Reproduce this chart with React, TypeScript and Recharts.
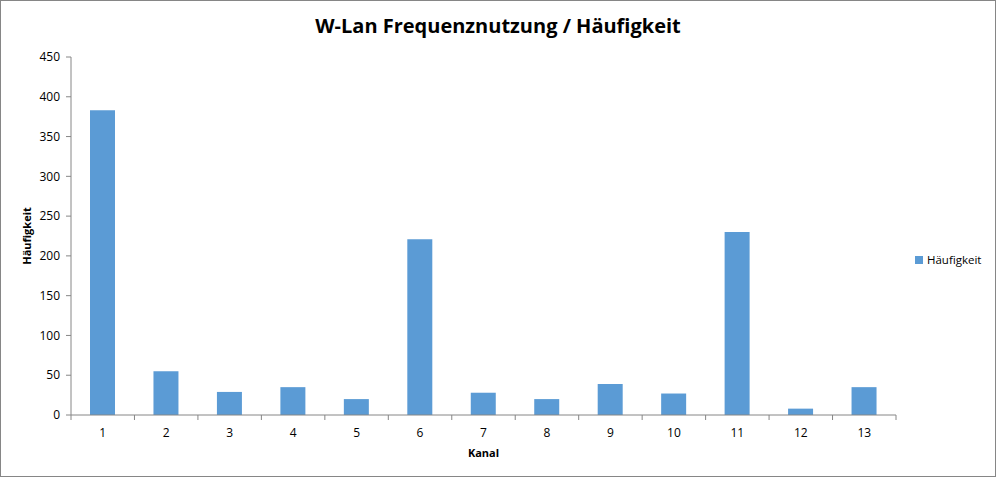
import React from "react";
import { BarChart, Bar, XAxis, YAxis } from "recharts";

const channels = ["1", "2", "3", "4", "5", "6", "7", "8", "9", "10", "11", "12", "13"];
const counts = [383, 55, 29, 35, 20, 221, 28, 20, 39, 27, 230, 8, 35];
const yTicks = [0, 50, 100, 150, 200, 250, 300, 350, 400, 450];
const seriesName = "Häufigkeit";

const data = channels.map((c, i) => ({ kanal: c, haeufigkeit: counts[i] }));

const W = 996;
const H = 477;
const M = { top: 57, right: 100, left: 0, bottom: 0 };
const Y_W = 71;
const X_H = 62;
const FONT = "'Open Sans', sans-serif";
const AXIS = "#868686";
const BAR = "#5B9BD5";

const plotW = W - M.left - M.right - Y_W;
const band = plotW / channels.length;

const XTick = (props: any) => {
  const { x, y, payload, index } = props;
  const half = band / 2;
  return (
    <g>
      <line x1={x - half} y1={y - 8} x2={x - half} y2={y - 3} stroke={AXIS} />
      {index === channels.length - 1 && (
        <line x1={x + half} y1={y - 8} x2={x + half} y2={y - 3} stroke={AXIS} />
      )}
      <text x={x} y={y + 14} textAnchor="middle" fontSize={12} fontFamily={FONT} fill="#000">
        {payload.value}
      </text>
    </g>
  );
};

export default function App() {
  return (
    <div style={{ position: "absolute", left: 0, top: 0, width: W, height: H, background: "#fff" }}>
      <div
        style={{
          position: "absolute",
          left: 0,
          top: 0,
          width: W - 2,
          height: H - 2,
          border: `1px solid ${AXIS}`,
          pointerEvents: "none",
        }}
      />
      <div
        style={{
          position: "absolute",
          left: 0,
          top: 12,
          width: W,
          textAlign: "center",
          fontFamily: FONT,
          fontWeight: 700,
          fontSize: 20,
          color: "#000",
        }}
      >
        W-Lan Frequenznutzung / Häufigkeit
      </div>
      <div
        style={{
          position: "absolute",
          left: 915,
          top: 252,
          display: "flex",
          alignItems: "center",
          fontFamily: FONT,
          fontSize: 11.5,
          color: "#000",
        }}
      >
        <span style={{ display: "inline-block", width: 8, height: 8, background: BAR, marginRight: 4 }} />
        {seriesName}
      </div>
      <BarChart width={W} height={H} data={data} margin={M}>
        <XAxis
          dataKey="kanal"
          height={X_H}
          stroke={AXIS}
          tickLine={false}
          tick={<XTick />}
          interval={0}
          label={{
            value: "Kanal",
            position: "insideBottom",
            offset: 20,
            fontFamily: FONT,
            fontWeight: 700,
            fontSize: 11,
            fill: "#000",
          }}
        />
        <YAxis
          width={Y_W}
          domain={[0, 450]}
          ticks={yTicks}
          interval={0}
          stroke={AXIS}
          tickSize={5}
          tickMargin={6}
          tick={{ fontFamily: FONT, fontSize: 12, fill: "#000" }}
          label={{
            value: "Häufigkeit",
            angle: -90,
            position: "insideLeft",
            offset: 27,
            style: { textAnchor: "middle" },
            fontFamily: FONT,
            fontWeight: 700,
            fontSize: 11,
            fill: "#000",
          }}
        />
        <Bar dataKey="haeufigkeit" name={seriesName} fill={BAR} barSize={25} isAnimationActive={false} />
      </BarChart>
    </div>
  );
}
